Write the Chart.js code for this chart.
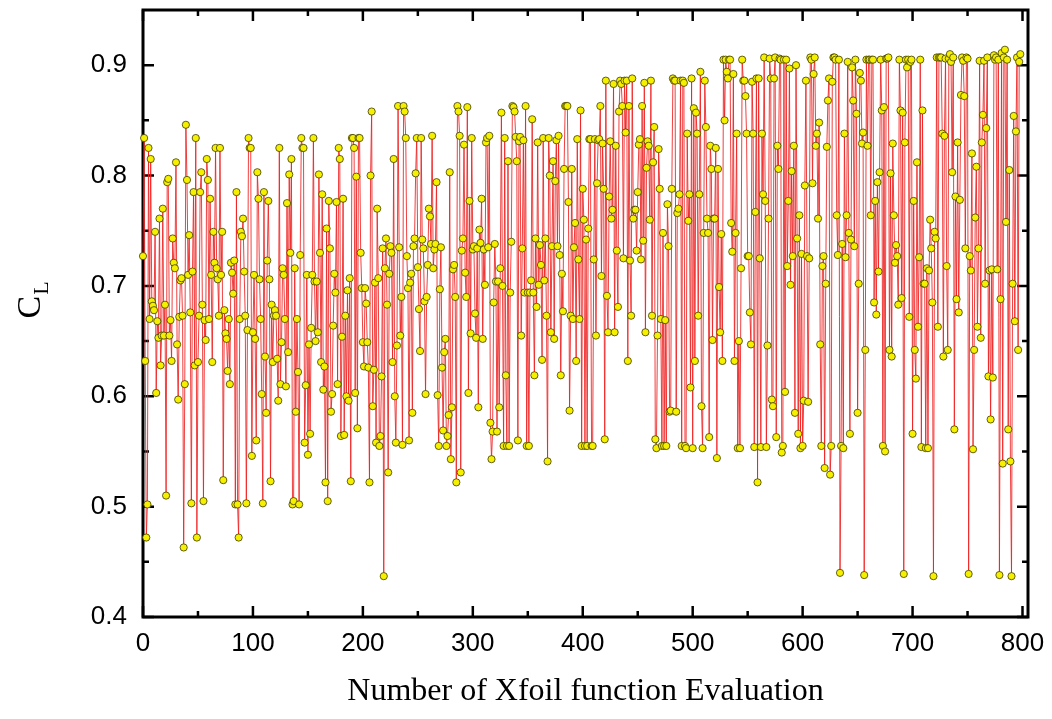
<!DOCTYPE html>
<html><head><meta charset="utf-8">
<script src="https://cdn.jsdelivr.net/npm/chart.js@4.4.1/dist/chart.umd.min.js"></script>
<style>html,body{margin:0;padding:0;background:#fff;} #wrap{width:1052px;height:719px;position:relative;}</style>
</head><body><div id="wrap"><canvas id="c"></canvas></div>
<script>
// C_L values per evaluation in four consecutive runs
const clA = [
0.727,0.834,0.632,0.472,0.502,0.825,0.670,0.815,0.686,0.682,
0.678,0.749,0.603,0.668,0.653,0.761,0.628,0.655,0.770,0.655,
0.683,0.510,0.794,0.797,0.655,0.669,0.632,0.743,0.721,0.716,
0.812,0.647,0.597,0.672,0.705,0.707,0.673,0.463,0.611,0.846,
0.796,0.710,0.746,0.676,0.503,0.713,0.785,0.628,0.834,0.472,
0.631,0.673,0.785,0.803,0.683,0.505,0.669,0.651,0.815,0.796,
0.670,0.779,0.710,0.631,0.749,0.721,0.825,0.716,0.706,0.673,
0.825,0.710,0.749,0.524,0.678,0.657,0.652,0.623,0.670,0.611,
0.721,0.712,0.693,0.723,0.502,0.785,0.502,0.472,0.670,0.749,
0.745,0.761,0.713,0.673,0.503,0.660,0.834,0.825,0.825,0.546,
0.658,0.710,0.652,0.560,0.803,0.779,0.706,0.670,0.602,0.503,
0.785,0.636,0.585,0.723,0.777,0.706,0.523,0.683,0.631,0.673,
0.678,0.673,0.634,0.596,0.825,0.611,0.649,0.716,0.710,0.670,
0.609,0.775,0.640,0.801,0.730,0.815,0.502,0.505,0.716,0.586,
0.670,0.622,0.502,0.728,0.834,0.825,0.825,0.558,0.610,0.710,
0.547,0.647,0.566,0.662,0.710,0.834,0.704,0.650,0.704,0.658,
0.801,0.730,0.631,0.783,0.606,0.627,0.522,0.752,0.505,0.777,
0.734,0.586,0.602,0.664,0.711,0.694,0.776,0.611,0.825,0.815,
0.564,0.654,0.779,0.565,0.673,0.600,0.696,0.596,0.707,0.523,
0.834,0.834,0.825,0.603,0.799,0.571,0.834,0.834,0.730,0.698,
0.649,0.627];
const clB = [
0.698,0.684,0.649,0.626,0.522,0.800,0.858,0.591,0.624,0.703,
0.558,0.770,0.707,0.555,0.564,0.618,0.734,0.437,0.716,0.743,
0.683,0.531,0.711,0.736,0.730,0.631,0.815,0.600,0.558,0.646,
0.863,0.735,0.655,0.690,0.556,0.863,0.858,0.834,0.727,0.698,
0.560,0.703,0.711,0.585,0.736,0.743,0.802,0.834,0.717,0.679,
0.641,0.834,0.742,0.734,0.686,0.602,0.690,0.719,0.770,0.763,
0.738,0.836,0.716,0.733,0.738,0.794,0.601,0.555,0.697,0.735,
0.626,0.569,0.640,0.652,0.555,0.564,0.583,0.803,0.543,0.590,
0.715,0.719,0.690,0.522,0.863,0.858,0.836,0.531,0.732,0.743,
0.828,0.712,0.690,0.862,0.603,0.777,0.657,0.834,0.733,0.736,
0.675,0.653,0.734,0.590,0.751,0.739,0.779,0.652,0.733,0.701,
0.830,0.834,0.735,0.836,0.576,0.543,0.568,0.685,0.738,0.704,
0.568,0.704,0.590,0.716,0.857,0.700,0.555,0.834,0.619,0.555,
0.813,0.555,0.694,0.740,0.863,0.862,0.858,0.835,0.813,0.560,
0.831,0.835,0.655,0.734,0.832,0.694,0.863,0.555,0.694,0.555,
0.694,0.705,0.851,0.694,0.619,0.743,0.681,0.830,0.701,0.737,
0.719,0.633,0.834,0.705,0.743,0.673,0.541,0.834,0.800,0.658,
0.736,0.813,0.652,0.795,0.832,0.736,0.836,0.728,0.619,0.711,
0.677,0.806,0.863,0.863,0.863,0.776,0.587,0.673,0.806,0.670,
0.735,0.757,0.632,0.833,0.724,0.670,0.859,0.555,0.788,0.760,
0.555,0.742,0.555,0.752,0.833];
const clC = [
0.833,0.555,0.555,0.724,0.833,0.655,0.793,0.832,0.833,0.863,
0.709,0.829,0.788,0.561,0.886,0.691,0.658,0.781,0.831,0.761,
0.769,0.883,0.658,0.827,0.732,0.681,0.858,0.886,0.883,0.863,
0.725,0.886,0.839,0.886,0.632,0.863,0.723,0.673,0.888,0.761,
0.769,0.769,0.732,0.785,0.828,0.833,0.724,0.863,0.741,0.884,
0.658,0.807,0.831,0.827,0.760,0.886,0.673,0.812,0.844,0.561,
0.553,0.655,0.824,0.788,0.670,0.555,0.748,0.555,0.669,0.555,
0.774,0.736,0.586,0.587,0.788,0.888,0.886,0.886,0.586,0.766,
0.770,0.783,0.886,0.555,0.886,0.884,0.555,0.553,0.838,0.759,
0.783,0.608,0.888,0.553,0.861,0.632,0.857,0.838,0.673,0.783,
0.894,0.591,0.553,0.748,0.886,0.844,0.761,0.748,0.563,0.827,
0.806,0.651,0.761,0.761,0.825,0.544,0.806,0.699,0.658,0.747,
0.632,0.905,0.850,0.905,0.894,0.888,0.905,0.905,0.757,0.731,
0.892,0.632,0.748,0.838,0.553,0.650,0.553,0.716,0.905,0.886,
0.886,0.872,0.838,0.727,0.727,0.676,0.647,0.885,0.838,0.554,
0.767,0.888,0.522,0.888,0.725,0.554,0.838,0.783,0.907,0.777,
0.554,0.646,0.761,0.906,0.888,0.597,0.591,0.888,0.907,0.563,
0.827,0.806,0.906,0.905,0.549,0.555,0.905,0.604,0.905,0.718,
0.777,0.897,0.701,0.804,0.727,0.827,0.585,0.900,0.743,0.566,
0.764,0.553,0.729,0.555,0.596,0.791,0.886,0.727];
const clD = [
0.595,0.725,0.907,0.905,0.793,0.892,0.907,0.827,0.838,0.761,
0.848,0.647,0.555,0.718,0.727,0.535,0.702,0.826,0.868,0.888,
0.529,0.555,0.885,0.907,0.907,0.905,0.764,0.728,0.905,0.440,
0.555,0.738,0.553,0.838,0.726,0.764,0.903,0.748,0.566,0.742,
0.898,0.868,0.736,0.905,0.856,0.585,0.702,0.893,0.886,0.829,
0.839,0.438,0.642,0.905,0.827,0.905,0.905,0.764,0.905,0.905,
0.685,0.777,0.674,0.794,0.713,0.803,0.905,0.859,0.555,0.862,
0.550,0.906,0.906,0.907,0.642,0.802,0.636,0.829,0.764,0.721,
0.737,0.727,0.683,0.905,0.859,0.689,0.857,0.439,0.830,0.905,
0.898,0.905,0.672,0.903,0.905,0.566,0.777,0.642,0.616,0.812,
0.663,0.726,0.905,0.554,0.859,0.702,0.702,0.553,0.716,0.553,
0.714,0.760,0.734,0.685,0.437,0.749,0.743,0.907,0.663,0.907,
0.907,0.907,0.838,0.636,0.836,0.906,0.718,0.642,0.906,0.910,
0.903,0.803,0.907,0.570,0.781,0.688,0.830,0.676,0.778,0.873,
0.907,0.904,0.872,0.734,0.907,0.906,0.439,0.727,0.714,0.820,
0.552,0.642,0.762,0.808,0.663,0.734,0.904,0.653,0.830,0.855,
0.904,0.702,0.843,0.907,0.618,0.714,0.579,0.715,0.617,0.909,
0.905,0.907,0.715,0.905,0.438,0.688,0.911,0.539,0.907,0.914,
0.758,0.905,0.570,0.805,0.541,0.437,0.702,0.854,0.668,0.840,
0.907,0.642,0.903,0.910];

const clValues = clA.concat(clB, clC, clD);
const evaluations = clValues.map((_, i) => i);   // evaluation number of each point
const xMajorTicks = [0,100,200,300,400,500,600,700,800];
const xMinorTicks = [50,150,250,350,450,550,650,750];
const yMajorTicks = [0.4,0.5,0.6,0.7,0.8,0.9];
const yMinorTicks = [0.45,0.55,0.65,0.75,0.85];
const xTitle = 'Number of Xfoil function Evaluation';
const yTitleMain = 'C';
const yTitleSub = 'L';

const framePlugin = {
  id: 'frame',
  beforeDatasetsDraw(chart) {
    const {ctx, chartArea: a, scales: {x, y}} = chart;
    ctx.save();
    ctx.strokeStyle = '#000';
    ctx.lineWidth = 2.5;
    ctx.beginPath();
    const xt = (v, len) => {
      const p = x.getPixelForValue(v);
      ctx.moveTo(p, a.bottom); ctx.lineTo(p, a.bottom - len);
      ctx.moveTo(p, a.top); ctx.lineTo(p, a.top + len);
    };
    const yt = (v, len) => {
      const p = y.getPixelForValue(v);
      ctx.moveTo(a.left, p); ctx.lineTo(a.left + len, p);
      ctx.moveTo(a.right, p); ctx.lineTo(a.right - len, p);
    };
    xMajorTicks.forEach(v => xt(v, 11));
    xMinorTicks.forEach(v => xt(v, 6));
    yMajorTicks.forEach(v => yt(v, 11));
    yMinorTicks.forEach(v => yt(v, 6));
    ctx.stroke();
    ctx.lineWidth = 3;
    ctx.strokeRect(a.left, a.top, a.right - a.left, a.bottom - a.top);
    ctx.restore();
  },
  afterDraw(chart) {
    const ctx = chart.ctx;
    const a = chart.chartArea;
    const cy = (a.top + a.bottom) / 2;
    ctx.save();
    ctx.fillStyle = '#000';
    ctx.translate(40, cy + 5);
    ctx.rotate(-Math.PI / 2);
    ctx.textBaseline = 'alphabetic';
    ctx.textAlign = 'left';
    ctx.font = '34px "Liberation Serif", "Times New Roman", serif';
    ctx.fillText(yTitleMain, 0, 0);
    const w = ctx.measureText(yTitleMain).width;
    ctx.font = '22px "Liberation Serif", "Times New Roman", serif';
    ctx.fillText(yTitleSub, w + 1, 8);
    ctx.restore();
  }
};

new Chart(document.getElementById('c'), {
  type: 'line',
  data: {
    datasets: [{
      data: clValues.map((v, i) => ({x: evaluations[i], y: v})),
      borderColor: 'rgba(238,30,30,0.85)',
      borderWidth: 1,
      pointRadius: 3.6,
      pointBackgroundColor: '#f5f000',
      pointBorderColor: '#3d3a00',
      pointBorderWidth: 0.8,
      tension: 0,
      clip: false
    }]
  },
  options: {
    responsive: true,
    maintainAspectRatio: false,
    animation: false,
    layout: {autoPadding: false, padding: {top: 10, right: 24, bottom: 0, left: 0}},
    plugins: {legend: {display: false}, tooltip: {enabled: false}},
    scales: {
      x: {
        type: 'linear', min: 0, max: 805,
        border: {display: false},
        grid: {display: false, drawTicks: false},
        ticks: {autoSkip: false, maxRotation: 0,
          color: '#000', padding: 11,
          font: {family: '"Liberation Sans", Arial, sans-serif', size: 26},
          callback: v => String(Math.round(v))},
        afterBuildTicks(s) { s.ticks = xMajorTicks.map(v => ({value: v})); },
        title: {display: true, text: xTitle, color: '#000',
          font: {family: '"Liberation Serif", "Times New Roman", serif', size: 32},
          padding: {top: 0, bottom: 8}},
        afterFit(s) { s.height = 102; s.paddingLeft = 0; s.paddingRight = 0; s.paddingTop = 0; s.paddingBottom = 0; }
      },
      y: {
        type: 'linear', min: 0.4, max: 0.95,
        border: {display: false},
        grid: {display: false, drawTicks: false},
        ticks: {color: '#000', padding: 16,
          font: {family: '"Liberation Sans", Arial, sans-serif', size: 26},
          callback: v => Number(v).toFixed(1)},
        afterBuildTicks(s) { s.ticks = yMajorTicks.map(v => ({value: v})); },
        afterFit(s) { s.width = 143; s.paddingLeft = 0; s.paddingRight = 0; s.paddingTop = 0; s.paddingBottom = 0; }
      }
    }
  },
  plugins: [framePlugin]
});
</script>
</body></html>
